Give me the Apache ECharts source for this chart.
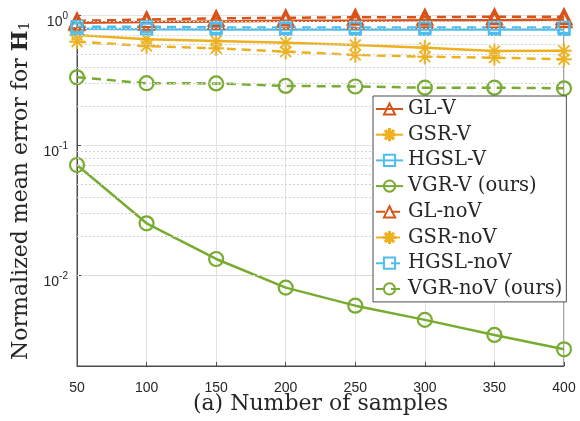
<!DOCTYPE html>
<html>
<head>
<meta charset="utf-8">
<script src="https://cdn.jsdelivr.net/npm/echarts@6/dist/echarts.min.js"></script>
<style>html,body{margin:0;padding:0;background:#fff;}#c{width:580px;height:421px;}</style>
</head>
<body>
<div id="c"></div>
<script>
const samples = [50, 100, 150, 200, 250, 300, 350, 400];
const glV     = [0.88, 0.89, 0.90, 0.91, 0.91, 0.92, 0.92, 0.93];
const gsrV    = [0.708, 0.656, 0.637, 0.617, 0.593, 0.565, 0.533, 0.536];
const hgslV   = [0.79, 0.785, 0.78, 0.78, 0.78, 0.78, 0.78, 0.78];
const vgrV    = [0.0706, 0.0251, 0.01334, 0.00803, 0.00583, 0.00453, 0.00347, 0.00269];
const glNoV   = [0.91, 0.93, 0.95, 0.96, 0.97, 0.97, 0.98, 0.98];
const gsrNoV  = [0.629, 0.582, 0.559, 0.527, 0.497, 0.482, 0.473, 0.460];
const hgslNoV = [0.82, 0.82, 0.81, 0.81, 0.81, 0.81, 0.81, 0.81];
const vgrNoV  = [0.334, 0.301, 0.300, 0.287, 0.284, 0.278, 0.278, 0.275];
const seriesNames = ['GL-V','GSR-V','HGSL-V','VGR-V (ours)','GL-noV','GSR-noV','HGSL-noV','VGR-noV (ours)'];
const yTickLabels = {'1': '0', '0.1': '-1', '0.01': '-2'};

const RED = '#D95319', YEL = '#EDB120', BLU = '#4DBEEE', GRN = '#77AC30';
const STAR = 'path://M-1,-10 L1,-10 L1,10 L-1,10 Z M-10,-1 L10,-1 L10,1 L-10,1 Z M-7.7,-6.3 L-6.3,-7.7 L7.7,6.3 L6.3,7.7 Z M6.3,-7.7 L7.7,-6.3 L-6.3,7.7 L-7.7,6.3 Z';
const SERIF = 'DejaVu Serif';

function mk(name, vals, color, symbol, size, dashed, filled) {
  return {
    name: name, type: 'line',
    data: samples.map((x, i) => [x, vals[i]]),
    symbol: symbol, symbolSize: size,
    lineStyle: {color: color, width: 2.5, type: dashed ? [9, 6] : 'solid'},
    itemStyle: filled ? {color: color, borderColor: color, borderWidth: 0.5}
                      : {color: 'rgba(255,255,255,0)', borderColor: color, borderWidth: 2.2},
    emphasis: {disabled: true},
    animation: false, z: 3
  };
}

const minorLines = [];
[0.001, 0.01, 0.1].forEach(d => { for (let m = 2; m <= 9; m++) { const v = +(m * d).toPrecision(3); if (v > 0.002 && v < 1) minorLines.push({yAxis: v}); } });

const series = [
  mk(seriesNames[0], glV, RED, 'triangle', 15, false, false),
  mk(seriesNames[1], gsrV, YEL, STAR, 15, false, true),
  mk(seriesNames[2], hgslV, BLU, 'rect', 11, false, false),
  mk(seriesNames[3], vgrV, GRN, 'circle', 14, false, false),
  mk(seriesNames[4], glNoV, RED, 'triangle', 15, true, false),
  mk(seriesNames[5], gsrNoV, YEL, STAR, 15, true, true),
  mk(seriesNames[6], hgslNoV, BLU, 'rect', 11, true, false),
  mk(seriesNames[7], vgrNoV, GRN, 'circle', 14, true, false),
  {
    name: 'minor', type: 'line', data: [], silent: true, z: 1,
    markLine: {silent: true, symbol: 'none', label: {show: false}, animation: false,
      lineStyle: {color: '#d4d4d4', width: 1, type: [2, 2]}, data: minorLines}
  }
];

const chart = echarts.init(document.getElementById('c'), null, {renderer: 'canvas'});
chart.setOption({
  animation: false,
  backgroundColor: '#fff',
  grid: {left: 77, right: 16, top: 15.5, bottom: 55, show: true, borderColor: '#4d4d4d', borderWidth: 1,
    backgroundColor: 'transparent', containLabel: false, outerBoundsMode: 'none'},
  xAxis: {
    type: 'value', min: 50, max: 400, interval: 50,
    name: '(a) Number of samples', nameLocation: 'middle', nameGap: 27, nameMoveOverlap: false,
    nameTextStyle: {fontFamily: SERIF, fontSize: 22, color: '#262626'},
    axisLine: {show: true, lineStyle: {color: '#4d4d4d'}},
    axisTick: {show: true, inside: true, length: 4, lineStyle: {color: '#4d4d4d'}},
    axisLabel: {fontFamily: 'Liberation Sans', fontSize: 14, color: '#262626', margin: 15},
    splitLine: {show: true, lineStyle: {color: '#e3e3e3', width: 1}}
  },
  yAxis: {
    type: 'log', logBase: 10, min: 0.002, max: 1,
    name: '{n|Normalized mean error for }{h|H}{sub|1}', nameLocation: 'middle', nameGap: 44,
    nameTextStyle: {fontFamily: SERIF, fontSize: 22, color: '#262626',
      rich: {
        n: {fontFamily: SERIF, fontSize: 22, color: '#262626'},
        h: {fontFamily: SERIF, fontSize: 22, fontWeight: 'bold', color: '#262626'},
        sub: {fontFamily: SERIF, fontSize: 14, color: '#262626', verticalAlign: 'bottom', padding: [8, 0, 0, 0]}
      }},
    axisLine: {show: true, lineStyle: {color: '#4d4d4d'}},
    axisTick: {show: true, inside: true, length: 4, lineStyle: {color: '#4d4d4d'}},
    axisLabel: {
      margin: 9,
      padding: [9.5, 0, 0, 0],
      formatter: function (v) {
        const k = yTickLabels[String(+v.toPrecision(6))];
        return k === undefined ? '' : '{b|10}{s|' + k + '}';
      },
      rich: {
        b: {fontFamily: 'Liberation Sans', fontSize: 14, color: '#262626', lineHeight: 17.5, verticalAlign: 'bottom'},
        s: {fontFamily: 'Liberation Sans', fontSize: 10, color: '#262626', lineHeight: 17.5, verticalAlign: 'top'}
      }
    },
    splitLine: {show: true, lineStyle: {color: '#e3e3e3', width: 1}}
  },
  legend: {
    data: seriesNames,
    orient: 'vertical', left: 373, top: 96,
    backgroundColor: '#fff', borderColor: '#4d4d4d', borderWidth: 1, borderRadius: 0,
    padding: [3, 4, 3, 2],
    itemWidth: 27, itemHeight: 14, itemGap: 5.7,
    textStyle: {fontFamily: SERIF, fontSize: 19.5, color: '#262626', lineHeight: 20},
    selectedMode: false, z: 10
  },
  series: series
});
</script>
</body>
</html>
